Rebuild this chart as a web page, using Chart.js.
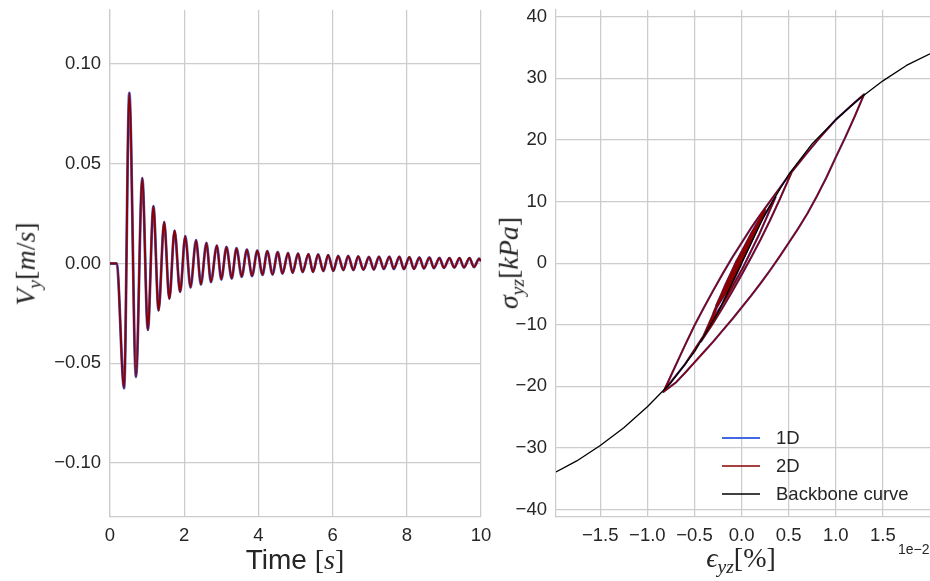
<!DOCTYPE html>
<html>
<head>
<meta charset="utf-8">
<script src="https://cdn.jsdelivr.net/npm/chart.js@4.4.0/dist/chart.umd.min.js"></script>
<style>
  body { margin: 0; background: #fff; }
  #fig { position: relative; width: 930px; height: 581px; overflow: hidden; color: #262626; font-family: "Liberation Sans", Arial, sans-serif; }
  canvas { position: absolute; top: -30px; }
  #velChart { left: 0; }
  #loopChart { left: 470px; }
  .lbl { position: absolute; white-space: nowrap; font-size: 28px; line-height: 1; transform: translate(-50%, -50%); }
  .rot { transform: translate(-50%, -50%) rotate(-90deg); }
  .m { font-family: "Liberation Serif", "DejaVu Serif", serif; }
  .m sub { font-size: 0.7em; vertical-align: -0.3em; }
  #offset { position: absolute; left: 898px; top: 542px; font-size: 14px; line-height: 1; }
</style>
</head>
<body>
<div id="fig">
  <canvas id="velChart" width="520" height="611"></canvas>
  <canvas id="loopChart" width="460" height="611"></canvas>
  <div class="lbl rot" style="left:28px; top:264px;"><span class="m"><i>V</i><sub><i>y</i></sub>[<i>m</i>/<i>s</i>]</span></div>
  <div class="lbl" style="left:295px; top:560px;">Time <span class="m">[<i>s</i>]</span></div>
  <div class="lbl rot" style="left:511px; top:263px;"><span class="m"><i>σ</i><sub><i>yz</i></sub>[<i>kPa</i>]</span></div>
  <div class="lbl" style="left:741px; top:560px;"><span class="m"><i>ϵ</i><sub><i>yz</i></sub>[%]</span></div>
  <div id="offset">1e−2</div>
</div>
<script>
// left panel: surface velocity, extrema
const timeS = [0, 0.18, 0.38, 0.52, 0.70, 0.87, 1.02, 1.17, 1.31, 1.46, 1.60, 1.74, 1.89,
  2.03, 2.17, 2.32, 2.45, 2.60, 2.72, 2.88, 3.00, 3.14, 3.28, 3.41, 3.55, 3.69, 3.83,
  3.97, 4.11, 4.24, 4.38, 4.52, 4.65, 4.80, 4.92, 5.07, 5.19, 5.35, 5.47, 5.61, 5.75,
  5.88, 6.02, 6.15, 6.29, 6.42, 6.56, 6.69, 6.83, 6.98, 7.11, 7.25, 7.38, 7.53, 7.65,
  7.80, 7.92, 8.07, 8.19, 8.34, 8.46, 8.61, 8.73, 8.88, 9.00, 9.15, 9.28, 9.42, 9.54,
  9.69, 9.81, 9.95, 10.0];
const vy1D = [0, 0, -0.0625, 0.0855, -0.0568, 0.0428, -0.0333, 0.0287, -0.0235, 0.0208, -0.0177, 0.0165, -0.0142,
  0.0137, -0.0120, 0.0117, -0.0105, 0.0103, -0.0093, 0.0090, -0.0080, 0.0083, -0.0075, 0.0077, -0.0067, 0.0070, -0.0063,
  0.0065, -0.0057, 0.0062, -0.0055, 0.0057, -0.0050, 0.0053, -0.0047, 0.0050, -0.0043, 0.0047, -0.0042, 0.0045, -0.0038,
  0.0042, -0.0037, 0.0038, -0.0033, 0.0038, -0.0033, 0.0036, -0.0031, 0.0033, -0.0030, 0.0034, -0.0027, 0.0034, -0.0027,
  0.0034, -0.0028, 0.0032, -0.0027, 0.0030, -0.0025, 0.0030, -0.0023, 0.0028, -0.0022, 0.0027, -0.0020, 0.0027, -0.0020,
  0.0027, -0.0018, 0.0024, 0.0012];
// the 2D run sits on top of the 1D run at this scale
const vy2D = vy1D.slice();
const timeTicks = [0, 2, 4, 6, 8, 10];
const vyTicks = [-0.1, -0.05, 0, 0.05, 0.1];

// right panel: stress-strain path (strain in 1e-2 %)
const loopStrain1D = [
  0, -0.2, -0.4, -0.6, -0.82,
  -0.7, -0.6, -0.5, -0.4, -0.3, -0.2, -0.1, 0, 0.1, 0.2, 0.3, 0.4, 0.5, 0.6, 0.7, 0.82, 1.0, 1.15, 1.3,
  1.2, 1.1, 1.0, 0.9, 0.8, 0.7, 0.6, 0.5, 0.4, 0.3, 0.2, 0.1, 0, -0.1, -0.2, -0.3, -0.4, -0.5, -0.6, -0.7, -0.83,
  -0.7, -0.6, -0.5, -0.4, -0.3, -0.2, -0.1, 0, 0.1, 0.2, 0.3, 0.4, 0.5, 0.53,
  0.4, 0.3, 0.2, 0.1, 0, -0.1, -0.2, -0.3, -0.43,
  -0.3, -0.2, -0.1, 0, 0.1, 0.2, 0.3, 0.36,
  0.1875, 0.015, -0.1575, -0.33,
  -0.185, -0.04, 0.105, 0.25,
  0.1125, -0.025, -0.1625, -0.30,
  -0.175, -0.05, 0.075, 0.20,
  0.0825, -0.035, -0.1525, -0.27,
  -0.055, 0.16, -0.04, -0.24, -0.055, 0.13, -0.04, -0.21, -0.055, 0.10, -0.045, -0.19,
  -0.055, 0.08, -0.045, -0.17, -0.055, 0.06, -0.045, -0.15, -0.055, 0.04, -0.045, -0.13,
  0.03, -0.12, 0.02];
const loopStress1D = [
  0, -6.5, -11.7, -16.4, -20.6,
  -16.6, -13.3, -10.1, -7.2, -4.4, -1.7, 0.9, 3.3, 5.7, 7.9, 10.0, 12.1, 14.2, 16.1, 18.0, 20.2, 23.3, 25.4, 27.4,
  23.8, 20.4, 17.2, 13.9, 10.9, 8.1, 5.6, 3.3, 1.0, -1.2, -3.3, -5.3, -7.2, -9.1, -10.9, -12.7, -14.4, -16.1, -17.8, -19.4, -20.9,
  -16.6, -13.3, -10.1, -7.2, -4.4, -1.7, 0.9, 3.3, 5.7, 7.9, 10.0, 12.1, 14.2, 14.7,
  10.2, 6.9, 3.8, 0.9, -1.9, -4.6, -7.2, -9.7, -12.7,
  -8.2, -4.9, -1.8, 1.2, 4.0, 6.7, 9.2, 10.7,
  4.7, -0.7, -5.5, -9.7,
  -4.27, 0.6, 4.93, 8.7,
  3.75, -0.7, -4.65, -8.1,
  -3.59, 0.45, 4.01, 7.1,
  2.92, -0.8, -4.08, -6.9,
  0.35, 5.9, -0.85, -6.0, 0.25, 5.0, -0.75, -5.1, 0.15, 4.1, -0.8, -4.5,
  0.05, 3.5, -0.7, -3.9, -0.05, 2.9, -0.6, -3.3, -0.15, 2.3, -0.65, -3.0,
  2.0, -2.4, 1.6];
const loopStrain2D = loopStrain1D.slice();
const loopStress2D = loopStress1D.slice();
const backboneStrain = [-1.97, -1.75, -1.5, -1.25, -1.0, -0.75, -0.5, -0.25, 0, 0.25, 0.5, 0.75, 1.0, 1.25, 1.5, 1.75, 2.0];
const backboneStress = [-33.9, -32.1, -29.6, -26.7, -23.3, -19.4, -14.4, -8.0, 0, 8.0, 14.4, 19.4, 23.3, 26.7, 29.6, 32.1, 34.0];
const strainTicks = [-1.5, -1.0, -0.5, 0, 0.5, 1.0, 1.5];
const stressTicks = [-40, -30, -20, -10, 0, 10, 20, 30, 40];

const BLUE = '#4169e1';
const RED = '#8b0000';
const GRID = '#cccccc';

Chart.defaults.font.family = '"Liberation Sans", Arial, sans-serif';
Chart.defaults.font.size = 18.5;
Chart.defaults.color = '#262626';

const toPoints = (xs, ys) => xs.map((x, i) => ({ x, y: ys[i] }));
const minus = s => s.replace('-', '\u2212');
const fixTicks = vals => scale => { scale.ticks = vals.map(v => ({ value: v })); };

function axis(min, max, vals, digits, opts) {
  return {
    type: 'linear',
    min,
    max,
    afterBuildTicks: fixTicks(vals),
    afterFit: opts.fit,
    grid: { color: GRID, lineWidth: 1.25, drawTicks: false },
    border: { display: true, color: GRID, width: 1.25 },
    ticks: {
      padding: opts.pad,
      maxRotation: 0,
      autoSkip: false,
      callback: v => minus(Number(v).toFixed(digits)),
    },
  };
}

const baseOptions = {
  responsive: false,
  animation: false,
  events: [],
  plugins: { legend: { display: false }, tooltip: { enabled: false } },
};

// legend drawn inside the plot, lower right
const legendInside = {
  id: 'legendInside',
  afterDraw(chart) {
    const { ctx, chartArea } = chart;
    ctx.save();
    ctx.font = '18.5px "Liberation Sans", Arial, sans-serif';
    ctx.fillStyle = '#262626';
    ctx.textBaseline = 'middle';
    chart.data.datasets.forEach((ds, i) => {
      const y = chartArea.bottom - 79 + i * 28;
      ctx.strokeStyle = ds.borderColor;
      ctx.lineWidth = ds.borderWidth;
      ctx.beginPath();
      ctx.moveTo(chartArea.right - 208, y);
      ctx.lineTo(chartArea.right - 170, y);
      ctx.stroke();
      ctx.fillText(ds.label, chartArea.right - 154, y + 1);
    });
    ctx.restore();
  },
};

new Chart(document.getElementById('velChart'), {
  type: 'scatter',
  data: {
    datasets: [
      { label: '1D', data: toPoints(timeS, vy1D), borderColor: BLUE, borderWidth: 2.8, order: 2 },
      { label: '2D', data: toPoints(timeS, vy2D), borderColor: RED, borderWidth: 2, order: 1 },
    ],
  },
  options: {
    ...baseOptions,
    layout: { padding: { top: 40, right: 39, left: 0, bottom: 0 } },
    elements: { point: { radius: 0, hoverRadius: 0 } },
    datasets: { scatter: { showLine: true, cubicInterpolationMode: 'monotone', borderJoinStyle: 'round' } },
    scales: {
      x: axis(0, 10, timeTicks, 0, { pad: 8, fit: s => { s.height = 64; } }),
      y: axis(-0.127, 0.127, vyTicks, 2, { pad: 9, fit: s => { s.width = 110; } }),
    },
  },
});

new Chart(document.getElementById('loopChart'), {
  type: 'scatter',
  data: {
    datasets: [
      { label: '1D', data: toPoints(loopStrain1D, loopStress1D), borderColor: BLUE, borderWidth: 2.2, order: 3 },
      { label: '2D', data: toPoints(loopStrain2D, loopStress2D), borderColor: RED, borderWidth: 1.6, order: 2 },
      { label: 'Backbone curve', data: toPoints(backboneStrain, backboneStress), borderColor: '#000000', borderWidth: 1.3, order: 1 },
    ],
  },
  options: {
    ...baseOptions,
    layout: { padding: { top: 40, right: 0, left: 0, bottom: 0 } },
    elements: { point: { radius: 0, hoverRadius: 0 } },
    datasets: { scatter: { showLine: true, tension: 0, borderJoinStyle: 'round' } },
    scales: {
      x: axis(-1.97, 2.0, strainTicks, 1, { pad: 8, fit: s => { s.height = 64; } }),
      y: axis(-41.2, 41.1, stressTicks, 0, { pad: 9, fit: s => { s.width = 86; } }),
    },
  },
  plugins: [legendInside],
});
</script>
</body>
</html>
